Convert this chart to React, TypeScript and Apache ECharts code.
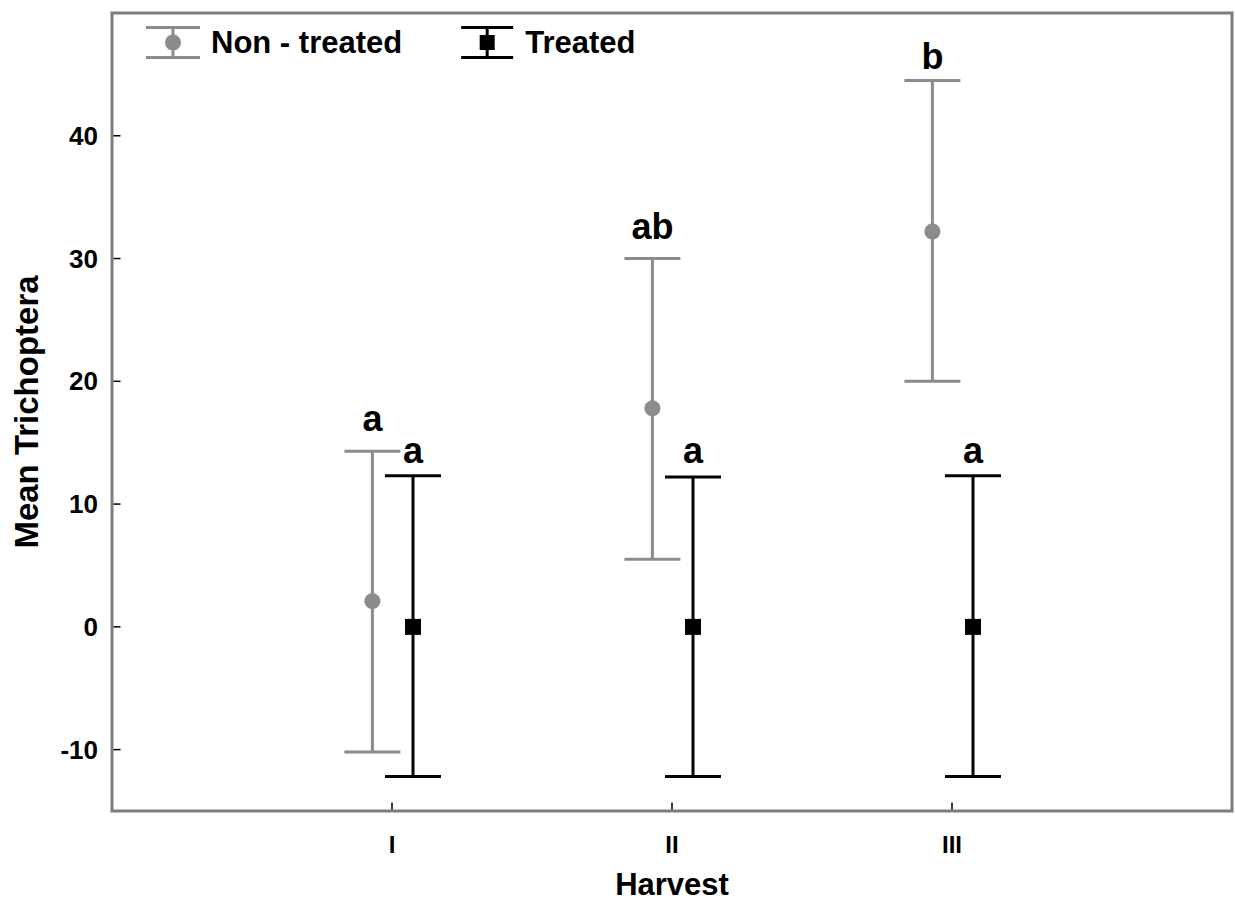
import React, { useEffect, useRef } from "react";
import * as echarts from "echarts";

const harvestLabels = ["I", "II", "III"];
const harvestPositions = [1, 2, 3];
const yTickValues = [-10, 0, 10, 20, 30, 40];

const nonTreatedMean = [2.1, 17.8, 32.2];
const nonTreatedLow = [-10.2, 5.5, 20.0];
const nonTreatedHigh = [14.3, 30.0, 44.5];
const nonTreatedLetters = ["a", "ab", "b"];
const nonTreatedLetterY = [16.1, 31.7, 45.6];

const treatedMean = [0, 0, 0];
const treatedLow = [-12.2, -12.2, -12.2];
const treatedHigh = [12.3, 12.2, 12.3];
const treatedLetters = ["a", "a", "a"];
const treatedLetterY = [13.5, 13.5, 13.5];

const GRAY = "#8c8c8c";
const BLACK = "#000000";
const FRAME = "#7d7d7d";
const FONT = "'Liberation Sans', Arial, Helvetica, sans-serif";

const NT_OFFSET = -0.07;
const T_OFFSET = 0.075;
const Y_MIN = -15;
const Y_MAX = 50;
const X_MIN = 0;
const X_MAX = 4;

function errorBarSeries(
  name: string,
  offset: number,
  low: number[],
  high: number[],
  letters: string[],
  letterY: number[],
  color: string
) {
  const data = harvestPositions.map((p, i) => [p + offset, low[i], high[i], letterY[i], i]);
  return {
    type: "custom",
    name: name + " bars",
    silent: true,
    z: 2,
    clip: false,
    data,
    encode: { x: 0, y: [1, 2] },
    renderItem: (params: any, api: any) => {
      const x = api.value(0);
      const lo = api.coord([x, api.value(1)]);
      const hi = api.coord([x, api.value(2)]);
      const lt = api.coord([x, api.value(3)]);
      const idx = api.value(4);
      const half = 28;
      const style = { stroke: color, lineWidth: 3 };
      return {
        type: "group",
        children: [
          { type: "line", shape: { x1: hi[0], y1: hi[1], x2: lo[0], y2: lo[1] }, style },
          { type: "line", shape: { x1: hi[0] - half, y1: hi[1], x2: hi[0] + half, y2: hi[1] }, style },
          { type: "line", shape: { x1: lo[0] - half, y1: lo[1], x2: lo[0] + half, y2: lo[1] }, style },
          {
            type: "text",
            x: lt[0],
            y: lt[1] + 7,
            style: {
              text: letters[idx],
              fill: "#000",
              font: "bold 36px " + FONT,
              textAlign: "center",
              textVerticalAlign: "bottom",
            },
          },
        ],
      };
    },
  };
}

// inward tick marks, positioned via the axes' own scales
function tickSeries() {
  const data: number[][] = [
    ...yTickValues.map((v) => [X_MIN, v, 0]),
    ...harvestPositions.map((p) => [p, Y_MIN, 1]),
  ];
  return {
    type: "custom",
    name: "ticks",
    silent: true,
    z: 5,
    clip: false,
    data,
    encode: { x: 0, y: 1 },
    renderItem: (params: any, api: any) => {
      const pt = api.coord([api.value(0), api.value(1)]);
      const vertical = api.value(2) === 1;
      const len = 7;
      return {
        type: "line",
        shape: vertical
          ? { x1: pt[0], y1: pt[1] - 1.5, x2: pt[0], y2: pt[1] - 1.5 - len }
          : { x1: pt[0] + 1.5, y1: pt[1], x2: pt[0] + 1.5 + len, y2: pt[1] },
        style: { stroke: "#000", lineWidth: 1.5 },
      };
    },
  };
}

const ntIcon =
  "path://M0,0H54V3H0Z M0,30H54V33H0Z M25.5,0H28.5V33H25.5Z M19,16.5A8,8 0 1,1 35,16.5A8,8 0 1,1 19,16.5Z";
const tIcon =
  "path://M0,0H52V3H0Z M0,30H52V33H0Z M24.5,0H27.5V33H24.5Z M18.5,9H33.5V24H18.5Z";

export default function App() {
  const ref = useRef<HTMLDivElement>(null);
  useEffect(() => {
    if (!ref.current) return;
    const chart = echarts.init(ref.current, undefined, { renderer: "svg" });
    chart.setOption({
      animation: false,
      backgroundColor: "#ffffff",
      textStyle: { fontFamily: FONT },
      grid: {
        left: 112,
        right: 3,
        top: 13,
        bottom: 92,
        show: true,
        borderColor: FRAME,
        borderWidth: 3,
        backgroundColor: "transparent",
        outerBoundsMode: "none",
        containLabel: false,
      },
      legend: {
        left: 141,
        top: 21,
        itemWidth: 54,
        itemHeight: 33,
        itemGap: 59,
        selectedMode: false,
        data: [
          { name: "Non - treated", icon: ntIcon, itemStyle: { color: GRAY } },
          { name: "Treated", icon: tIcon, itemStyle: { color: BLACK } },
        ],
        textStyle: {
          fontFamily: FONT,
          fontWeight: "bold",
          fontSize: 31,
          color: "#000",
          padding: [0, 0, 0, 6],
        },
      },
      xAxis: {
        type: "value",
        min: X_MIN,
        max: X_MAX,
        name: "Harvest",
        nameLocation: "middle",
        nameGap: 58,
        nameTextStyle: { fontFamily: FONT, fontWeight: "bold", fontSize: 31, color: "#000" },
        splitLine: { show: false },
        axisLine: { show: false, onZero: false },
        axisTick: { show: false },
        axisLabel: {
          customValues: harvestPositions,
          formatter: (v: number) => harvestLabels[harvestPositions.indexOf(v)] ?? "",
          fontFamily: FONT,
          fontWeight: "bold",
          fontSize: 24,
          color: "#000",
          margin: 21,
        },
      },
      yAxis: {
        type: "value",
        min: Y_MIN,
        max: Y_MAX,
        name: "Mean Trichoptera",
        nameLocation: "middle",
        nameRotate: 90,
        nameGap: 69,
        nameTextStyle: { fontFamily: FONT, fontWeight: "bold", fontSize: 33, color: "#000" },
        splitLine: { show: false },
        axisLine: { show: false, onZero: false },
        axisTick: { show: false },
        axisLabel: {
          customValues: yTickValues,
          fontFamily: FONT,
          fontWeight: "bold",
          fontSize: 26,
          color: "#000",
          margin: 14,
        },
      },
      series: [
        tickSeries(),
        errorBarSeries("Non - treated", NT_OFFSET, nonTreatedLow, nonTreatedHigh, nonTreatedLetters, nonTreatedLetterY, GRAY),
        errorBarSeries("Treated", T_OFFSET, treatedLow, treatedHigh, treatedLetters, treatedLetterY, BLACK),
        {
          type: "scatter",
          name: "Non - treated",
          z: 3,
          symbol: "circle",
          symbolSize: 16,
          itemStyle: { color: GRAY, opacity: 1 },
          data: harvestPositions.map((p, i) => [p + NT_OFFSET, nonTreatedMean[i]]),
        },
        {
          type: "scatter",
          name: "Treated",
          z: 3,
          symbol: "rect",
          symbolSize: 16,
          itemStyle: { color: BLACK, opacity: 1 },
          data: harvestPositions.map((p, i) => [p + T_OFFSET, treatedMean[i]]),
        },
      ],
    });
    return () => chart.dispose();
  }, []);
  return (
    <div
      ref={ref}
      style={{ position: "fixed", left: 0, top: 0, width: 1235, height: 903, background: "#fff" }}
    />
  );
}
